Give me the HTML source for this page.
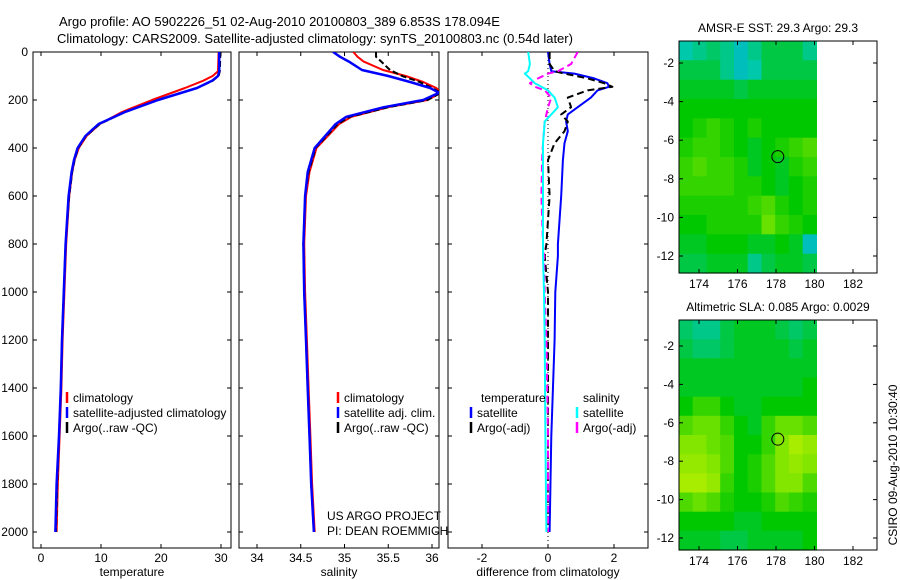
<!DOCTYPE html>
<html><head><meta charset="utf-8">
<style>
html,body{margin:0;padding:0;background:#fff;}
svg{display:block;font-family:"Liberation Sans",sans-serif;}
</style></head>
<body>
<svg id="fig" width="900" height="580" viewBox="0 0 900 580" xmlns="http://www.w3.org/2000/svg">
<rect x="0" y="0" width="900" height="580" fill="#fff"/>
<text x="59" y="26" font-size="13">Argo profile: AO 5902226_51 02-Aug-2010 20100803_389 6.853S 178.094E</text>
<text x="57" y="43" font-size="13">Climatology: CARS2009. Satellite-adjusted climatology: synTS_20100803.nc (0.54d later)</text>
<g id="layer"></g>
</svg>
<script>
// ---------- data ----------
const depthTicks = [0,200,400,600,800,1000,1200,1400,1600,1800,2000];
const tempTicks = [0,10,20,30];
const salTicks = [34,34.5,35,35.5,36];
const salTickLabels = ["34","34.5","35","35.5","36"];
const diffTicks = [-2,0,2];
const lonTicks = [174,176,178,180,182];
const latTicks = [-2,-4,-6,-8,-10,-12];

const tDepth = [0,80,100,120,150,200,250,300,350,400,450,500,600,800,1000,1200,1400,1600,1800,2000];
const tClim  = [29.6,29.5,28.6,27,24,18.5,13.5,9.8,7.6,6.3,5.6,5.2,4.7,4.2,3.9,3.6,3.4,3.1,2.8,2.6];
const tSat   = [29.7,29.7,29.5,28.5,26,19.5,14,9.6,7.4,6.1,5.5,5.1,4.6,4.1,3.8,3.5,3.3,3.0,2.6,2.4];
const tArgo  = [29.9,29.8,29.6,28.6,26,19.5,14,9.8,7.5,6.2,5.6,5.2,4.7,4.1,3.8,3.5,3.3,3.0,2.7,2.5];

const sDepth = [0,20,40,75,100,125,150,170,200,230,270,300,400,500,600,800,1000,1200,1400,1600,1800,2000];
const sClim  = [35.1,35.15,35.22,35.44,35.7,35.9,36.05,36.1,35.95,35.5,35.08,34.94,34.68,34.6,34.56,34.54,34.55,34.57,34.59,34.61,34.63,34.66];
const sSat   = [34.87,34.95,35.05,35.2,35.5,35.75,35.98,36.08,35.9,35.45,35.02,34.9,34.66,34.58,34.55,34.53,34.54,34.56,34.58,34.6,34.62,34.65];
const sArgo  = [35.36,35.36,35.42,35.52,35.66,35.86,36.0,36.1,35.95,35.5,35.06,34.92,34.67,34.59,34.55,34.53,34.54,34.56,34.58,34.6,34.62,34.65];

const dDepth   = [0,50,80,90,110,130,145,160,190,230,260,290,330,380,450,600,800,850,1000,1200,1600,2000];
const dTempSat = [0.0,0.05,0.1,0.8,1.4,1.8,1.85,1.5,1.3,0.9,0.6,0.55,0.6,0.5,0.45,0.4,0.3,0.3,0.22,0.2,0.1,0.05];
const dTempArgo= [0.05,0.05,0.2,0.5,1.2,1.7,1.95,1.2,0.6,0.7,0.4,0.6,0.5,0.2,0.0,0.05,-0.05,-0.1,0.0,0.0,0.0,0.0];
const dSalSat  = [-0.6,-0.55,-0.6,-0.7,-0.55,-0.4,-0.2,0.0,0.2,0.3,0.1,-0.1,-0.12,-0.15,-0.15,-0.15,-0.15,-0.15,-0.12,-0.1,-0.08,-0.05];
const dSalArgo = [0.9,0.7,0.3,0.0,-0.3,-0.55,-0.4,-0.1,0.1,0.0,-0.05,-0.1,-0.12,-0.15,-0.18,-0.2,-0.15,-0.12,-0.1,-0.05,0.0,0.0];

const sstGrid = [
[0.25,0.3,0.35,0.3,0.2,0.3,0.4,0.4,0.4,0.3],
[0.4,0.4,0.4,0.3,0.2,0.25,0.4,0.4,0.4,0.4],
[0.45,0.45,0.45,0.45,0.4,0.45,0.45,0.45,0.45,0.45],
[0.5,0.5,0.5,0.5,0.5,0.5,0.5,0.5,0.5,0.5],
[0.5,0.55,0.6,0.55,0.5,0.55,0.5,0.5,0.5,0.5],
[0.55,0.6,0.6,0.55,0.5,0.45,0.5,0.55,0.6,0.65],
[0.6,0.65,0.6,0.6,0.55,0.45,0.5,0.45,0.55,0.6],
[0.6,0.6,0.6,0.6,0.55,0.55,0.5,0.45,0.5,0.55],
[0.55,0.55,0.55,0.55,0.55,0.6,0.65,0.55,0.5,0.55],
[0.5,0.5,0.55,0.55,0.55,0.55,0.7,0.6,0.55,0.5],
[0.45,0.45,0.5,0.5,0.5,0.45,0.45,0.5,0.45,0.2],
[0.4,0.4,0.45,0.45,0.45,0.3,0.4,0.45,0.45,0.4]];
const slaGrid = [
[0.35,0.3,0.3,0.4,0.45,0.45,0.45,0.4,0.35,0.4],
[0.4,0.35,0.35,0.4,0.45,0.45,0.45,0.45,0.4,0.45],
[0.45,0.45,0.45,0.45,0.45,0.45,0.45,0.45,0.45,0.45],
[0.45,0.45,0.45,0.45,0.45,0.45,0.45,0.45,0.45,0.5],
[0.5,0.6,0.6,0.5,0.45,0.45,0.5,0.5,0.5,0.5],
[0.65,0.7,0.7,0.6,0.5,0.45,0.6,0.7,0.7,0.65],
[0.75,0.75,0.7,0.65,0.5,0.5,0.6,0.75,0.85,0.8],
[0.8,0.8,0.75,0.65,0.5,0.55,0.65,0.75,0.8,0.75],
[0.85,0.85,0.8,0.6,0.5,0.55,0.65,0.75,0.75,0.65],
[0.65,0.7,0.65,0.55,0.5,0.5,0.55,0.65,0.6,0.55],
[0.5,0.5,0.5,0.5,0.45,0.45,0.5,0.5,0.5,0.5],
[0.45,0.45,0.45,0.4,0.4,0.45,0.45,0.45,0.45,0.5]];
const floatLon = 178.094;
const floatLat = -6.853;

// ---------- helpers ----------
const NS = "http://www.w3.org/2000/svg";
const layer = document.getElementById('layer');
function mk(tag, attrs, parent){
  const e = document.createElementNS(NS, tag);
  for (const k in attrs) e.setAttribute(k, attrs[k]);
  (parent||layer).appendChild(e);
  return e;
}
const yD = d => 52 + d*0.24;
const TOP = 52, BOT = 548;

function profilePanel(name, x0, x1, xs, ticks, labels, title, yLabels){
  const g = mk('g', {});
  
  
  const clip = mk('clipPath', {id: 'clip-'+name}, g);
  mk('rect', {x:x0, y:TOP, width:x1-x0, height:BOT-TOP}, clip);
  const box = mk('rect', {x:x0, y:TOP, width:x1-x0, height:BOT-TOP, fill:'none', stroke:'#000', 'stroke-width':1}, g);
  
  
  depthTicks.forEach(d=>{
    const y = yD(d);
    mk('line', {x1:x0, x2:x0+4, y1:y, y2:y, stroke:'#000'}, g);
    mk('line', {x1:x1-4, x2:x1, y1:y, y2:y, stroke:'#000'}, g);
    if (yLabels){
      const t = mk('text', {x:x0-5, y:y+4, 'font-size':12, 'text-anchor':'end'}, g);
      
      
      t.textContent = d;
    }
  });
  ticks.forEach((v,i)=>{
    const x = xs(v);
    mk('line', {x1:x, x2:x, y1:TOP, y2:TOP+4, stroke:'#000'}, g);
    mk('line', {x1:x, x2:x, y1:BOT-4, y2:BOT, stroke:'#000'}, g);
    const t = mk('text', {x:x, y:562, 'font-size':12, 'text-anchor':'middle'}, g);
    
    
    t.textContent = labels[i];
  });
  const tt = mk('text', {x:(x0+x1)/2, y:576, 'font-size':12, 'text-anchor':'middle'}, g);
  
  
  tt.textContent = title;
  return g;
}
function series(g, name, clipId, depths, vals, xs, color, width, dash){
  const pts = depths.map((d,i)=> xs(vals[i]).toFixed(1)+','+yD(d).toFixed(1)).join(' ');
  const p = mk('polyline', {points:pts, fill:'none', stroke:color, 'stroke-width':width, 'clip-path':'url(#'+clipId+')', 'stroke-linejoin':'round'}, g);
  if (dash) p.setAttribute('stroke-dasharray', dash);
  
  
}
function legend(g, x, y, color, label, bar){
  if (bar){
    const m = mk('line', {x1:x, x2:x, y1:y-10, y2:y+1, stroke:color, 'stroke-width':2.5}, g);
    
    
  }
  const t = mk('text', {x:x+6, y:y, 'font-size':12}, g);
  
  
  t.textContent = label;
}

// ---------- temperature panel ----------
const xT = v => 41 + v*6;
const g1 = profilePanel('temperature-panel', 33, 231, xT, tempTicks, tempTicks.map(String), 'temperature', true);
series(g1, 'temp-climatology-line', 'clip-temperature-panel', tDepth, tClim, xT, '#f00', 2);
series(g1, 'temp-argo-line', 'clip-temperature-panel', tDepth, tArgo, xT, '#000', 2, '6,3');
series(g1, 'temp-satellite-line', 'clip-temperature-panel', tDepth, tSat, xT, '#00f', 2.5);
legend(g1, 67, 402, '#f00', 'climatology', true);
legend(g1, 67, 417, '#00f', 'satellite-adjusted climatology', true);
legend(g1, 67, 432, '#000', 'Argo(..raw -QC)', true);

// ---------- salinity panel ----------
const xS = v => 257 + (v-34)*87.5;
const g2 = profilePanel('salinity-panel', 239, 439, xS, salTicks, salTickLabels, 'salinity', false);
series(g2, 'sal-climatology-line', 'clip-salinity-panel', sDepth, sClim, xS, '#f00', 2);
series(g2, 'sal-argo-line', 'clip-salinity-panel', sDepth, sArgo, xS, '#000', 2, '6,3');
series(g2, 'sal-satellite-line', 'clip-salinity-panel', sDepth, sSat, xS, '#00f', 2.5);
legend(g2, 338, 402, '#f00', 'climatology', true);
legend(g2, 338, 417, '#00f', 'satellite adj. clim.', true);
legend(g2, 338, 432, '#000', 'Argo(..raw -QC)', true);
legend(g2, 321, 520, '#000', 'US ARGO PROJECT', false);
legend(g2, 321, 535, '#000', 'PI: DEAN ROEMMICH', false);

// ---------- difference panel ----------
const xDf = v => 548 + v*33;
const g3 = profilePanel('difference-panel', 448, 648, xDf, diffTicks, diffTicks.map(String), 'difference from climatology', false);
const zl = mk('line', {x1:xDf(0), x2:xDf(0), y1:TOP, y2:BOT, stroke:'#000', 'stroke-width':1, 'stroke-dasharray':'1,3'}, g3);


series(g3, 'diff-temp-satellite-line', 'clip-difference-panel', dDepth, dTempSat, xDf, '#00f', 2);
series(g3, 'diff-temp-argo-line', 'clip-difference-panel', dDepth, dTempArgo, xDf, '#000', 2, '7,4');
series(g3, 'diff-sal-argo-line', 'clip-difference-panel', dDepth, dSalArgo, xDf, '#f0f', 2, '7,4');
series(g3, 'diff-sal-satellite-line', 'clip-difference-panel', dDepth, dSalSat, xDf, '#0ff', 2);
legend(g3, 475, 402, '#000', 'temperature', false);
legend(g3, 471, 417, '#00f', 'satellite', true);
legend(g3, 471, 432, '#000', 'Argo(-adj)', true);
legend(g3, 577, 402, '#000', 'salinity', false);
legend(g3, 577, 417, '#0ff', 'satellite', true);
legend(g3, 577, 432, '#f0f', 'Argo(-adj)', true);

// ---------- maps ----------
function cmap(v){
  const stops = [[0,[0,150,255]],[0.25,[0,200,170]],[0.5,[0,200,0]],[0.75,[130,230,0]],[1,[225,245,0]]];
  for (let i=0;i<stops.length-1;i++){
    const [a,ca]=stops[i],[b,cb]=stops[i+1];
    if (v<=b){ const t=(v-a)/(b-a); return 'rgb('+ca.map((c,k)=>Math.round(c+(cb[k]-c)*t)).join(',')+')'; }
  }
  return 'rgb(225,245,0)';
}
function mapPanel(name, top, bottom, latAt2, latAt12, grid, title){
  const left=679, right=877;
  const lonX = lon => 699 + (lon-174)*19.25;
  const pxPerDeg = (latAt12-latAt2)/10;
  const latY = lat => latAt2 + (-2-lat)*pxPerDeg;
  const latTop = -2 + (latAt2-top)/pxPerDeg;
  const latBot = -2 - (bottom-latAt2)/pxPerDeg;
  const lonL = 174 + (left-699)/19.25, lonR = 180.1;
  const g = mk('g', {});
  
  
  const rows = grid.length, cols = grid[0].length;
  const dLat = (latTop-latBot)/rows, dLon = (lonR-lonL)/cols;
  grid.forEach((row,r)=>row.forEach((v,c)=>{
    const x = lonX(lonL + c*dLon), y = latY(latTop - r*dLat);
    const cell = mk('rect', {x:x.toFixed(1), y:y.toFixed(1), width:(dLon*19.25+0.6).toFixed(1), height:(dLat*pxPerDeg+0.6).toFixed(1), fill:cmap(v)}, g);
    
    
  }));
  const fr = mk('rect', {x:left, y:top, width:right-left, height:bottom-top, fill:'none', stroke:'#000'}, g);
  
  
  lonTicks.forEach(lon=>{
    const x = lonX(lon);
    mk('line', {x1:x, x2:x, y1:top, y2:top+4, stroke:'#000'}, g);
    mk('line', {x1:x, x2:x, y1:bottom-4, y2:bottom, stroke:'#000'}, g);
    const t = mk('text', {x:x, y:bottom+15, 'font-size':12, 'text-anchor':'middle'}, g);
    
    
    t.textContent = lon;
  });
  latTicks.forEach(lat=>{
    const y = latY(lat);
    mk('line', {x1:left, x2:left+4, y1:y, y2:y, stroke:'#000'}, g);
    mk('line', {x1:right-4, x2:right, y1:y, y2:y, stroke:'#000'}, g);
    const t = mk('text', {x:left-5, y:y+4, 'font-size':12, 'text-anchor':'end'}, g);
    
    
    t.textContent = lat;
  });
  const c = mk('circle', {cx:lonX(floatLon), cy:latY(floatLat), r:6, fill:'none', stroke:'#000', 'stroke-width':1}, g);
  
  
  const tt = mk('text', {x:(left+right)/2, y:top-9, 'font-size':12, 'text-anchor':'middle'}, g);
  
  
  tt.textContent = title;
}
mapPanel('sst-map', 41, 273, 63, 256, sstGrid, 'AMSR-E SST: 29.3 Argo: 29.3');
mapPanel('sla-map', 320, 550, 346, 538, slaGrid, 'Altimetric SLA: 0.085 Argo: 0.0029');

const cs = mk('text', {x:0, y:0, 'font-size':12, 'text-anchor':'middle', transform:'translate(897,465) rotate(-90)'});


cs.textContent = 'CSIRO 09-Aug-2010 10:30:40';
</script>
</body></html>
